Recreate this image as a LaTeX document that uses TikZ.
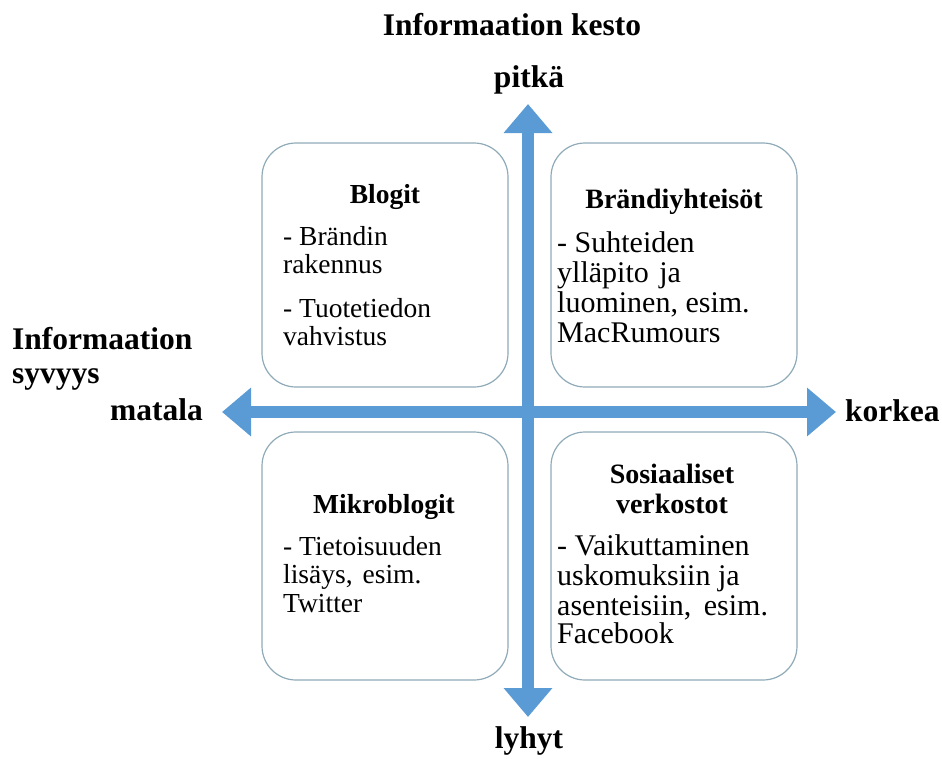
\documentclass[tikz,border=0pt]{standalone}
\usepackage{fontspec}
\setmainfont{Liberation Serif}
\usetikzlibrary{arrows.meta}
\definecolor{axisblue}{HTML}{5B9BD5}
\definecolor{boxline}{HTML}{8FAAB8}

\begin{document}
\begin{tikzpicture}[x=1pt,y=-1pt,
  qbox/.style={draw=boxline, line width=1.2pt, fill=white, rounded corners=34pt,
               minimum width=246pt, inner sep=0pt},
  axis/.style={draw=axisblue, line width=12pt,
               {Triangle[length=29pt,width=47pt]}-{Triangle[length=29pt,width=47pt]}},
  axlabel/.style={font=\fontsize{31.5}{34}\selectfont\bfseries, inner sep=0pt},
  ltitle/.style={font=\fontsize{27.5}{30}\selectfont\bfseries, inner sep=0pt, anchor=base},
  ltext/.style={font=\fontsize{27.5}{30}\selectfont, inner sep=0pt, anchor=base west},
  rtitle/.style={font=\fontsize{28}{30}\selectfont\bfseries, inner sep=0pt, anchor=base},
  rtext/.style={font=\fontsize{30}{30}\selectfont, inner sep=0pt, anchor=base west}]
\useasboundingbox (0,0) rectangle (942,758);

% quadrant boxes
\node[qbox, minimum height=244pt] (tl) at (385,265) {};
\node[qbox, minimum height=244pt] (tr) at (674,265) {};
\node[qbox, minimum height=248pt] (bl) at (385,556) {};
\node[qbox, minimum height=248pt] (br) at (674,556) {};

% axes
\coordinate (west)  at (222,412);
\coordinate (east)  at (836,412);
\coordinate (north) at (528,104);
\coordinate (south) at (528,717);
\draw[axis] (west) -- (east);
\draw[axis] (south) -- (north);

% axis labels
\node[axlabel, anchor=base] (title) at (512,35) {Informaation kesto};
\node[axlabel, anchor=base] (long) at (529,87) {pitkä};
\node[axlabel, anchor=base] (short) at (529,748) {lyhyt};
\node[axlabel, anchor=base west] (low) at (110,420) {matala};
\node[axlabel, anchor=base west] (high) at (845,421) {korkea};
\node[axlabel, anchor=base west] (depth1) at (12,349) {Informaation};
\node[axlabel, anchor=base west] (depth2) at (12,383) {syvyys};

% top left
\node[ltitle] (tlh) at (385,203) {Blogit};
\node[ltext] (tl1) at (283,245) {- Brändin};
\node[ltext] (tl2) at (283,273) {rakennus};
\node[ltext] (tl3) at (283,317) {- Tuotetiedon};
\node[ltext] (tl4) at (283,345) {vahvistus};

% top right
\node[rtitle] (trh) at (674,208) {Brändiyhteisöt};
\node[rtext] (tr1) at (557,252) {- Suhteiden};
\node[rtext] (tr2) at (557,282) {ylläpito\hspace{3pt} ja};
\node[rtext] (tr3) at (557,312) {luominen, esim.};
\node[rtext] (tr4) at (557,342) {MacRumours};

% bottom left
\node[ltitle] (blh) at (384,513) {Mikroblogit};
\node[ltext] (bl1) at (283,555) {- Tietoisuuden};
\node[ltext] (bl2) at (283,583) {lisäys,\hspace{3pt} esim.};
\node[ltext] (bl3) at (283,612) {Twitter};

% bottom right
\node[rtitle] (brh1) at (672,483) {Sosiaaliset};
\node[rtitle] (brh2) at (672,513) {verkostot};
\node[rtext] (br1) at (557,555) {- Vaikuttaminen};
\node[rtext] (br2) at (557,585) {uskomuksiin ja};
\node[rtext] (br3) at (557,615) {asenteisiin,\hspace{5pt} esim.};
\node[rtext] (br4) at (557,643) {Facebook};
\end{tikzpicture}
\end{document}
